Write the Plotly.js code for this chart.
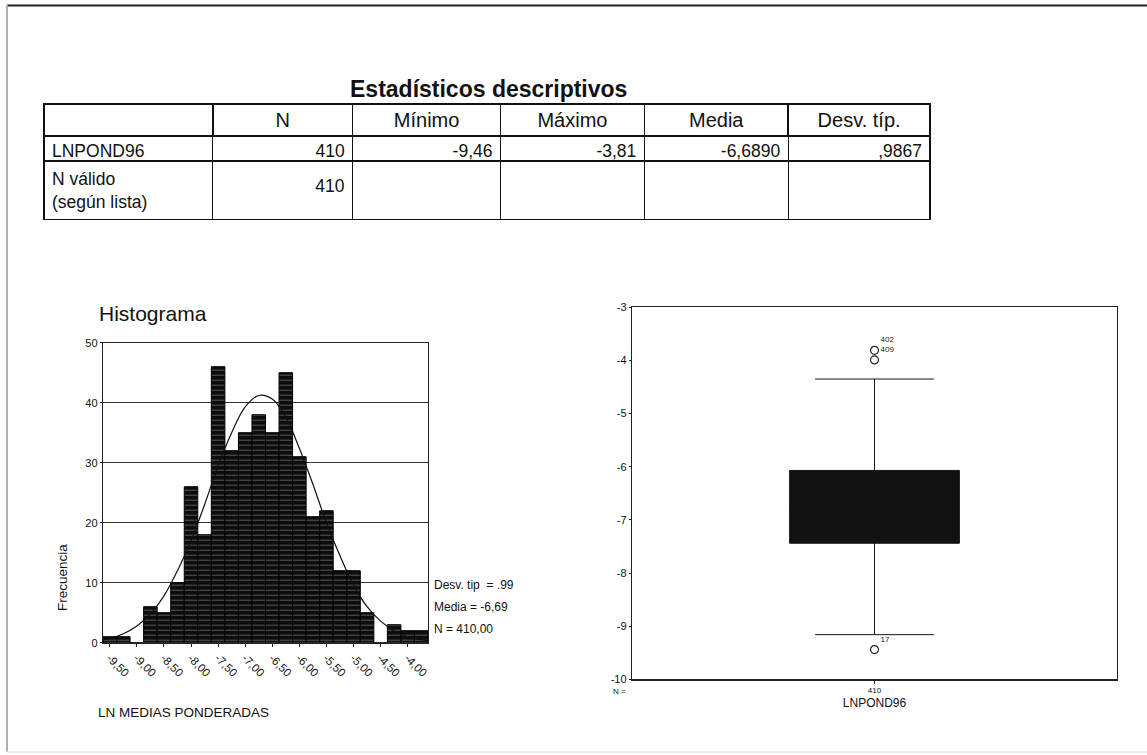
<!DOCTYPE html>
<html>
<head>
<meta charset="utf-8">
<script src="https://cdn.plot.ly/plotly-3.0.1.min.js"></script>
<style>
  html, body { margin: 0; padding: 0; background: #ffffff; }
  #chart { width: 1147px; height: 755px; }
</style>
</head>
<body>
<div id="chart"></div>
<script>
// ---------- Table data ----------
const tableHeader = ['', 'N', 'Mínimo', 'Máximo', 'Media', 'Desv. típ.'];
const tableRowLabels = ['LNPOND96', 'N válido<br>(según lista)'];
const colN = ['410', '<br>410'];
const colMin = ['-9,46', ''];
const colMax = ['-3,81', ''];
const colMedia = ['-6,6890', ''];
const colDesv = [',9867', ''];

// ---------- Histogram data ----------
const binCenters = [-9.50, -9.25, -9.00, -8.75, -8.50, -8.25, -8.00, -7.75, -7.50, -7.25, -7.00, -6.75,
                    -6.50, -6.25, -6.00, -5.75, -5.50, -5.25, -5.00, -4.75, -4.50, -4.25, -4.00, -3.75];
const binCounts  = [1, 1, 0, 6, 5, 10, 26, 18, 46, 32, 35, 38,
                    35, 45, 31, 21, 22, 12, 12, 5, 0, 3, 2, 2];
const histTickVals = [-9.5, -9.0, -8.5, -8.0, -7.5, -7.0, -6.5, -6.0, -5.5, -5.0, -4.5, -4.0];
const histTickText = ['-9,50', '-9,00', '-8,50', '-8,00', '-7,50', '-7,00', '-6,50', '-6,00', '-5,50', '-5,00', '-4,50', '-4,00'];
// normal curve
const curveX = [-9.625, -9.5, -9.25, -9.0, -8.75, -8.5, -8.25, -8.0, -7.75, -7.5, -7.25, -7.0, -6.75,
                -6.5, -6.25, -6.0, -5.75, -5.5, -5.25, -5.0, -4.75, -4.5, -4.25, -4.0, -3.75, -3.625];
const curveY = [0.5, 0.7, 1.5, 2.8, 4.8, 7.8, 12, 17, 23, 29.5, 35, 39.3, 41.2,
                40.6, 37.6, 32.4, 26.4, 20, 14.5, 9.6, 6, 3.6, 2, 1, 0.5, 0.35];
const histStats = ['Desv. tip  = .99', 'Media = -6,69', 'N = 410,00'];

// ---------- Boxplot data ----------
const boxName = ['LNPOND96'];
const boxN = ['410'];
const boxQ1 = [-7.44];
const boxMedian = [-6.72];
const boxQ3 = [-6.07];
const boxLowerFence = [-9.16];
const boxUpperFence = [-4.35];
const outlierY = [-3.81, -3.99, -9.44];
const outlierLabels = ['402', '409', '17'];
const boxTickVals = [-3, -4, -5, -6, -7, -8, -9, -10];
const boxTickText = ['-3', '-4', '-5', '-6', '-7', '-8', '-9', '-10'];

const W = 1147, H = 755;
const px = v => v / W;
const py = v => 1 - v / H;
const FONT = 'Liberation Sans, Arial, sans-serif';

const traces = [
  {
    type: 'table',
    domain: { x: [px(44), px(931)], y: [py(240), py(104)] },
    columnwidth: [169, 140, 148, 144, 144, 142],
    header: {
      values: tableHeader,
      align: 'center',
      height: 32,
      font: { family: FONT, size: 20, color: '#111' },
      line: { color: '#111', width: 1.5 },
      fill: { color: '#ffffff' }
    },
    cells: {
      values: [tableRowLabels, colN, colMin, colMax, colMedia, colDesv],
      align: ['left', 'right', 'right', 'right', 'right', 'right'],
      height: 25,
      font: { family: FONT, size: 17.5, color: '#111' },
      line: { color: '#111', width: 1.3 },
      fill: { color: '#ffffff' }
    }
  },
  {
    type: 'bar',
    x: binCenters,
    y: binCounts,
    width: 0.25,
    xaxis: 'x', yaxis: 'y',
    marker: {
      color: '#0d0d0d',
      line: { color: '#000', width: 1 },
      pattern: { shape: '-', fgcolor: '#8c8c8c', bgcolor: '#0d0d0d', size: 5, solidity: 0.12 }
    },
    hoverinfo: 'x+y',
    showlegend: false
  },
  {
    type: 'scatter',
    mode: 'lines',
    x: curveX,
    y: curveY,
    xaxis: 'x', yaxis: 'y',
    line: { color: '#111', width: 1.2, shape: 'spline', smoothing: 1 },
    showlegend: false
  },
  {
    type: 'box',
    x: [0],
    q1: boxQ1,
    median: boxMedian,
    q3: boxQ3,
    lowerfence: boxLowerFence,
    upperfence: boxUpperFence,
    width: 0.7,
    whiskerwidth: 0.7,
    xaxis: 'x2', yaxis: 'y2',
    fillcolor: '#121212',
    line: { color: '#151515', width: 1 },
    name: boxName[0],
    showlegend: false
  },
  {
    type: 'scatter',
    mode: 'markers+text',
    x: outlierY.map(() => 0),
    y: outlierY,
    text: outlierLabels,
    textposition: 'top right',
    textfont: { family: FONT, size: 8, color: '#222' },
    marker: { symbol: 'circle-open', size: 8, color: '#222', line: { width: 1.2 } },
    xaxis: 'x2', yaxis: 'y2',
    cliponaxis: false,
    showlegend: false
  }
];

const layout = {
  width: W, height: H,
  margin: { l: 0, r: 0, t: 0, b: 0 },
  paper_bgcolor: '#ffffff',
  plot_bgcolor: '#ffffff',
  font: { family: FONT, color: '#111' },
  showlegend: false,
  bargap: 0,
  xaxis: {
    domain: [px(103), px(428)],
    anchor: 'y',
    range: [-9.625, -3.625],
    tickvals: histTickVals,
    ticktext: histTickText,
    tickangle: 45,
    tickfont: { family: FONT, size: 11.5, color: '#111' },
    ticks: 'outside', ticklen: 3, tickcolor: '#222',
    showgrid: false, zeroline: false,
    showline: true, linecolor: '#222', linewidth: 1.2, mirror: true
  },
  yaxis: {
    domain: [py(642.7), py(342.7)],
    anchor: 'x',
    range: [0, 50],
    dtick: 10,
    tickfont: { family: FONT, size: 11, color: '#111' },
    ticks: 'outside', ticklen: 2, tickcolor: '#222',
    showgrid: true, gridcolor: '#333', gridwidth: 1,
    zeroline: false,
    showline: true, linecolor: '#222', linewidth: 1.2, mirror: true
  },
  xaxis2: {
    domain: [px(632), px(1117)],
    anchor: 'y2',
    range: [-1, 1],
    tickvals: [0],
    ticktext: boxN,
    tickfont: { family: FONT, size: 8, color: '#111' },
    ticks: 'outside', ticklen: 3, tickcolor: '#222',
    title: { text: boxName[0], font: { family: FONT, size: 12, color: '#111' }, standoff: 4 },
    showgrid: false, zeroline: false,
    showline: true, linecolor: '#222', linewidth: 1.2, mirror: true
  },
  yaxis2: {
    domain: [py(679.3), py(307.3)],
    anchor: 'x2',
    range: [-10, -3],
    tickvals: boxTickVals,
    ticktext: boxTickText,
    tickfont: { family: FONT, size: 11, color: '#111' },
    ticks: 'outside', ticklen: 2, tickcolor: '#222',
    showgrid: false, zeroline: false,
    showline: true, linecolor: '#222', linewidth: 1.2, mirror: true
  },
  annotations: [
    { text: '<b>Estadísticos descriptivos</b>', xref: 'paper', yref: 'paper', x: px(488), y: py(89),
      xanchor: 'center', yanchor: 'middle', showarrow: false, font: { family: FONT, size: 23, color: '#111' } },
    { text: 'Histograma', xref: 'paper', yref: 'paper', x: px(97), y: py(313),
      xanchor: 'left', yanchor: 'middle', showarrow: false, font: { family: FONT, size: 21, color: '#111' } },
    { text: 'Frecuencia', xref: 'paper', yref: 'paper', x: px(62), y: py(578), textangle: -90,
      xanchor: 'center', yanchor: 'middle', showarrow: false, font: { family: FONT, size: 13.5, color: '#111' } },
    { text: 'LN MEDIAS PONDERADAS', xref: 'paper', yref: 'paper', x: px(96), y: py(712),
      xanchor: 'left', yanchor: 'middle', showarrow: false, font: { family: FONT, size: 13.5, color: '#111' } },
    { text: histStats[0], xref: 'paper', yref: 'paper', x: px(432), y: py(585),
      xanchor: 'left', yanchor: 'middle', showarrow: false, font: { family: FONT, size: 12, color: '#111' } },
    { text: histStats[1], xref: 'paper', yref: 'paper', x: px(432), y: py(607),
      xanchor: 'left', yanchor: 'middle', showarrow: false, font: { family: FONT, size: 12, color: '#111' } },
    { text: histStats[2], xref: 'paper', yref: 'paper', x: px(432), y: py(629),
      xanchor: 'left', yanchor: 'middle', showarrow: false, font: { family: FONT, size: 12, color: '#111' } },
    { text: 'N =', xref: 'paper', yref: 'paper', x: px(628), y: py(691),
      xanchor: 'right', yanchor: 'middle', showarrow: false, font: { family: FONT, size: 8, color: '#111' } }
  ],
  shapes: [
    { type: 'line', xref: 'paper', yref: 'paper', x0: px(7), x1: 1, y0: py(5.5), y1: py(5.5),
      line: { color: '#222', width: 2 } },
    { type: 'line', xref: 'paper', yref: 'paper', x0: px(7), x1: px(7), y0: py(5), y1: py(752),
      line: { color: '#b0b0b0', width: 2 } },
    { type: 'line', xref: 'paper', yref: 'paper', x0: px(7), x1: 1, y0: py(752), y1: py(752),
      line: { color: '#e4e4e4', width: 1.5 } }
  ]
};

Plotly.newPlot('chart', traces, layout, { displayModeBar: false, staticPlot: true });
</script>
</body>
</html>
